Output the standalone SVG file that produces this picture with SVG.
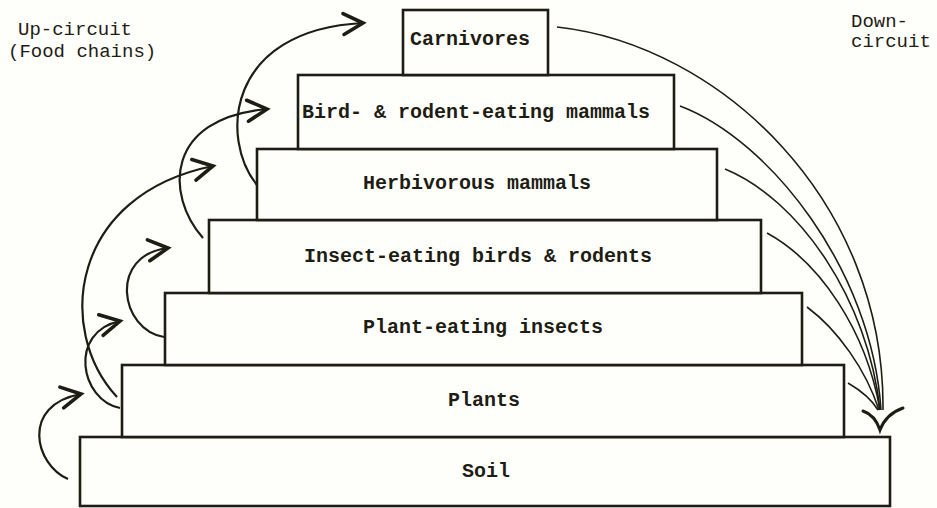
<svg xmlns="http://www.w3.org/2000/svg" width="937" height="508" viewBox="0 0 937 508">
<defs>
<style>
.box{fill:#fefefb;stroke:#1e1d14;stroke-width:2.6}
.t{font-family:"Liberation Mono","DejaVu Sans Mono",monospace;font-size:20px;font-weight:bold;fill:#1e1d14;text-anchor:middle}
.lbl{font-family:"Liberation Mono","DejaVu Sans Mono",monospace;font-size:19px;fill:#1e1d14}
.up{fill:none;stroke:#1e1d14;stroke-width:2.2;marker-end:url(#chev)}
.dn{fill:none;stroke:#1e1d14;stroke-width:1.6}
</style>
<marker id="chev" markerUnits="userSpaceOnUse" markerWidth="30" markerHeight="30" refX="0" refY="0" viewBox="-16 -10 20 20" orient="auto">
<path d="M-13,-7 L0,0 L-13,7" fill="none" stroke="#1e1d14" stroke-width="2.4" stroke-linecap="round" stroke-linejoin="miter"/>
</marker>
</defs>
<rect width="937" height="508" fill="#fefefb"/>
<text class="lbl" x="18" y="35">Up-circuit</text>
<text class="lbl" x="8" y="57">(Food chains)</text>
<text class="lbl" x="851" y="27">Down-</text>
<text class="lbl" x="851" y="47">circuit</text>

<g id="soil"><rect class="box" x="80" y="437" width="810" height="69"/><text class="t" x="486" y="477">Soil</text></g>
<g id="plants"><rect class="box" x="122" y="365" width="722" height="72"/><text class="t" x="484" y="406">Plants</text></g>
<g id="plant-eating-insects"><rect class="box" x="165" y="293" width="637" height="72"/><text class="t" x="483" y="333">Plant-eating insects</text></g>
<g id="insect-eating"><rect class="box" x="209" y="220" width="552" height="73"/><text class="t" x="478" y="262">Insect-eating birds &amp; rodents</text></g>
<g id="herbivorous"><rect class="box" x="257" y="149" width="460" height="71"/><text class="t" x="477" y="189">Herbivorous mammals</text></g>
<g id="bird-rodent-eating"><rect class="box" x="298" y="75" width="376" height="74"/><text class="t" x="476" y="118">Bird- &amp; rodent-eating mammals</text></g>
<g id="carnivores"><rect class="box" x="403" y="10" width="145" height="65"/><text class="t" x="470" y="45">Carnivores</text></g>

<g id="connectors">
<path class="up" d="M68,479 C35,465 20,405 81,394"/>
<path class="up" d="M120,408 C80,400 68,332 120,321"/>
<path class="up" d="M117,397 C55,330 70,195 213,166"/>
<path class="up" d="M164,337 C120,330 108,255 168,248"/>
<path class="up" d="M203,238 C165,195 165,118 267,109"/>
<path class="up" d="M257,185 C220,140 225,30 363,23"/>

<path class="dn" d="M557,27 C720,45 885,200 883,410"/>
<path class="dn" d="M680,106 C770,140 872,270 881,410"/>
<path class="dn" d="M725,169 C800,200 868,300 880,410"/>
<path class="dn" d="M767,233 C820,262 866,330 880,410"/>
<path class="dn" d="M807,307 C838,330 866,370 879,410"/>
<path class="dn" d="M848,383 C860,390 872,400 878,410"/>
<path d="M863,411 Q875,415 880,430 Q886,414 903,408" fill="none" stroke="#1e1d14" stroke-width="3" stroke-linecap="round"/>
</g>
</svg>
